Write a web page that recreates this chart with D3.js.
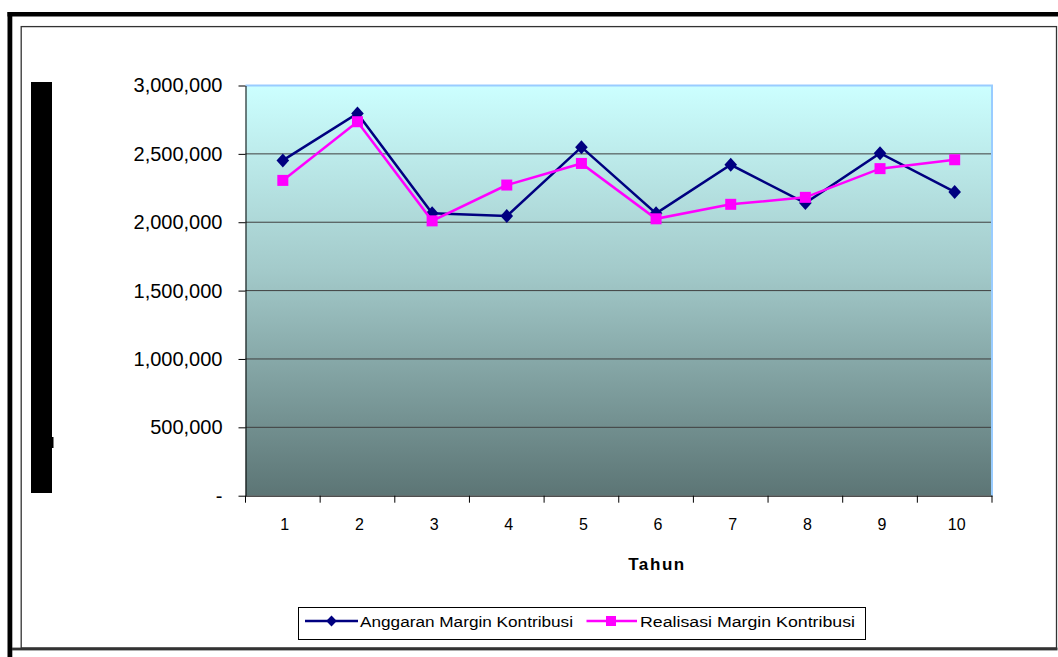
<!DOCTYPE html>
<html>
<head>
<meta charset="utf-8">
<script src="https://cdn.jsdelivr.net/npm/d3@7"></script>
<style>
  html, body { margin: 0; padding: 0; background: #ffffff; }
  svg { display: block; font-family: Arial, "Liberation Sans", sans-serif; }
</style>
</head>
<body>
<svg id="chart" width="1058" height="657"></svg>
<script>
// ---- data ----
const categories = ["1", "2", "3", "4", "5", "6", "7", "8", "9", "10"];
const anggaran  = [2452000, 2795000, 2065000, 2045000, 2549000, 2065000, 2420000, 2140000, 2505000, 2222000];
const realisasi = [2306000, 2735000, 2010000, 2272000, 2430000, 2025000, 2131000, 2182000, 2392000, 2457000];
const yTicks = [0, 500000, 1000000, 1500000, 2000000, 2500000, 3000000];
const seriesNames = ["Anggaran Margin Kontribusi", "Realisasi Margin Kontribusi"];
const xTitle = "Tahun";

const svg = d3.select("#chart");

// ---- frames ----
svg.append("rect").attr("x", 7.5).attr("y", 12).attr("width", 1051).attr("height", 4.5).attr("fill", "#000");
svg.append("rect").attr("x", 7.5).attr("y", 12).attr("width", 4.8).attr("height", 645).attr("fill", "#000");
svg.append("rect").attr("x", 21.2).attr("y", 26.6).attr("width", 1035.3).attr("height", 621.4)
  .attr("fill", "none").attr("stroke", "#333").attr("stroke-width", 1.3);
svg.append("rect").attr("x", 12).attr("y", 647.6).attr("width", 1045.5).attr("height", 2.8).attr("fill", "#333");

// redacted axis-title block
svg.append("rect").attr("x", 31).attr("y", 82).attr("width", 21).attr("height", 411).attr("fill", "#000");
svg.append("rect").attr("x", 51).attr("y", 437).attr("width", 2.5).attr("height", 11).attr("fill", "#000");

// ---- scales ----
const x = d3.scaleBand().domain(categories).range([245.5, 992]).padding(0);
const y = d3.scaleLinear().domain([0, 3000000]).range([495.7, 85.5]);

// ---- plot background ----
const defs = svg.append("defs");
const grad = defs.append("linearGradient").attr("id", "bg").attr("x1", 0).attr("y1", 0).attr("x2", 0).attr("y2", 1);
grad.append("stop").attr("offset", "0%").attr("stop-color", "#CCFFFF");
grad.append("stop").attr("offset", "45%").attr("stop-color", "#A3CACA");
grad.append("stop").attr("offset", "100%").attr("stop-color", "#5C7575");

const [x0, x1] = x.range();
svg.append("rect").attr("x", x0).attr("y", y(3000000)).attr("width", x1 - x0).attr("height", y(0) - y(3000000))
  .attr("fill", "url(#bg)");

// gridlines
svg.append("g").selectAll("line").data(yTicks.filter(d => d > 0 && d < 3000000)).join("line")
  .attr("x1", x0).attr("x2", x1).attr("y1", d => y(d)).attr("y2", d => y(d))
  .attr("stroke", "#3f3f3f").attr("stroke-width", 1);

// plot border (light blue top/right)
svg.append("path")
  .attr("d", `M${x0},${y(3000000)}H${x1}V${y(0)}`)
  .attr("fill", "none").attr("stroke", "#99CCFF").attr("stroke-width", 2);

// ---- y axis ----
const yAxis = d3.axisLeft(y).tickValues(yTicks)
  .tickFormat(d => d === 0 ? "-" : d3.format(",")(d))
  .tickSize(7).tickSizeOuter(0).tickPadding(16);
const gy = svg.append("g").attr("transform", `translate(${x0},0)`).call(yAxis);
gy.select(".domain").attr("stroke", "#000").attr("stroke-width", 1);
gy.selectAll(".tick line").attr("stroke", "#000");
gy.selectAll(".tick text").attr("font-size", 20).attr("fill", "#000")
  .attr("font-family", "Arial, 'Liberation Sans', sans-serif");

// ---- x axis ----
const xAxis = d3.axisBottom(x).tickSize(0).tickSizeOuter(0).tickPadding(23);
const gx = svg.append("g").attr("transform", `translate(0,${y(0)})`).call(xAxis);
gx.select(".domain").attr("stroke", "#000").attr("stroke-width", 1);
gx.selectAll(".tick text").attr("font-size", 16).attr("fill", "#000").attr("dx", 2)
  .attr("font-family", "Arial, 'Liberation Sans', sans-serif");
// tick marks at category boundaries
const bounds = categories.map(c => x(c)).concat([x1]);
gx.append("g").selectAll("line").data(bounds).join("line")
  .attr("x1", d => d).attr("x2", d => d).attr("y1", 0).attr("y2", 7)
  .attr("stroke", "#000").attr("stroke-width", 1);

// x title
svg.append("text").attr("x", 657).attr("y", 569.5).attr("text-anchor", "middle")
  .attr("font-size", 17).attr("font-weight", "bold").attr("letter-spacing", 1.6)
  .text(xTitle);

// ---- series ----
const cx = c => x(c) + x.bandwidth() / 2;
const diamond = "M0,-7L6.3,0L0,7L-6.3,0Z";

const line = d3.line().x((d, i) => cx(categories[i])).y(d => y(d));

svg.append("path").datum(anggaran).attr("d", line)
  .attr("fill", "none").attr("stroke", "#000080").attr("stroke-width", 2.5);
svg.append("g").selectAll("path").data(anggaran).join("path")
  .attr("d", diamond)
  .attr("transform", (d, i) => `translate(${cx(categories[i])},${y(d)})`)
  .attr("fill", "#000080");

svg.append("path").datum(realisasi).attr("d", line)
  .attr("fill", "none").attr("stroke", "#FF00FF").attr("stroke-width", 2.5);
svg.append("g").selectAll("rect").data(realisasi).join("rect")
  .attr("x", (d, i) => cx(categories[i]) - 5.5).attr("y", d => y(d) - 5.5)
  .attr("width", 11).attr("height", 11)
  .attr("fill", "#FF00FF");

// ---- legend ----
const lg = svg.append("g");
lg.append("rect").attr("x", 298.5).attr("y", 607.5).attr("width", 567).attr("height", 32)
  .attr("fill", "#fff").attr("stroke", "#000").attr("stroke-width", 1);
// series 1
lg.append("line").attr("x1", 305).attr("x2", 358).attr("y1", 621).attr("y2", 621)
  .attr("stroke", "#000080").attr("stroke-width", 2.5);
lg.append("path").attr("d", "M0,-5.5L5.3,0L0,5.5L-5.3,0Z").attr("transform", "translate(331.5,621)").attr("fill", "#000080");
lg.append("text").attr("x", 360).attr("y", 627).attr("font-size", 15.5)
  .attr("textLength", 213).attr("lengthAdjust", "spacingAndGlyphs").text(seriesNames[0]);
// series 2
lg.append("line").attr("x1", 586.5).attr("x2", 637).attr("y1", 621).attr("y2", 621)
  .attr("stroke", "#FF00FF").attr("stroke-width", 2.5);
lg.append("rect").attr("x", 606).attr("y", 616).attr("width", 10).attr("height", 10).attr("fill", "#FF00FF");
lg.append("text").attr("x", 640).attr("y", 627).attr("font-size", 15.5)
  .attr("textLength", 215).attr("lengthAdjust", "spacingAndGlyphs").text(seriesNames[1]);
</script>
</body>
</html>
